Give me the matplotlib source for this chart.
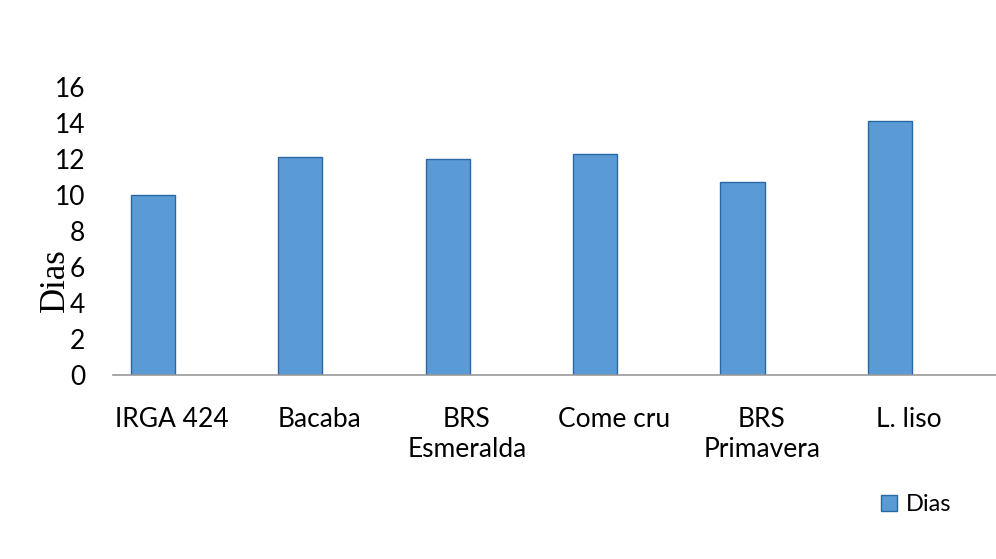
import matplotlib
matplotlib.use("Agg")
import matplotlib.pyplot as plt
import numpy as np

# cultivars and days
cultivars = ["IRGA 424", "Bacaba", "BRS\nEsmeralda", "Come cru", "BRS\nPrimavera", "L. liso"]
dias = [10.0, 12.1, 12.0, 12.3, 10.7, 14.1]
yticks = [0, 2, 4, 6, 8, 10, 12, 14, 16]

plt.rcParams["font.family"] = ["Lato", "DejaVu Sans"]

fig = plt.figure(figsize=(9.96, 5.59), dpi=100)
ax = fig.add_axes([0.1135, 0.329, 0.8865, 0.5154])

x = np.arange(len(cultivars))
ax.bar(x - 0.13, dias, width=0.30, color="#5b9bd5", edgecolor="#2a67a6", linewidth=1.0,
       label="Dias", zorder=2)

ax.set_xlim(-0.40, 5.59)
ax.set_ylim(0, 16)
ax.set_yticks(yticks)
ax.set_yticklabels([str(v) for v in yticks], fontsize=19)
ax.set_xticks(x)
ax.set_xticklabels(cultivars, fontsize=19, linespacing=1.25)
ax.tick_params(axis="y", length=0, pad=20)
ax.tick_params(axis="x", length=0, pad=23)

for s in ("left", "right", "top"):
    ax.spines[s].set_visible(False)
ax.spines["bottom"].set_color("#9a9a9a")
ax.spines["bottom"].set_linewidth(1.2)

ax.set_ylabel("Dias", family=["Liberation Serif", "DejaVu Serif"], fontsize=25, labelpad=2)
ax.yaxis.set_label_coords(-0.047, 0.33)

fig.legend(loc="center left", bbox_to_anchor=(0.863, 0.097), frameon=False, fontsize=17,
           handlelength=0.7, handleheight=0.7, handletextpad=0.35)

fig.savefig("out.png", dpi=100)
